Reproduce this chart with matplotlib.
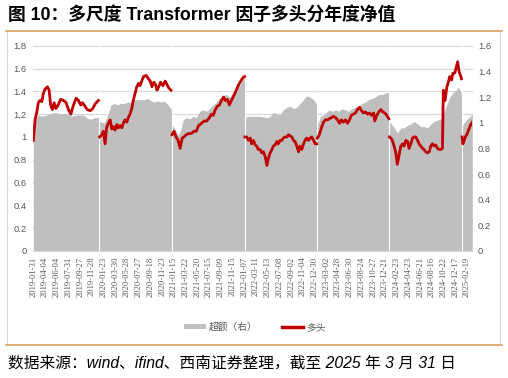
import matplotlib
matplotlib.use("Agg")
import matplotlib.pyplot as plt
from matplotlib.lines import Line2D
from matplotlib.patches import Patch
from matplotlib.transforms import blended_transform_factory

plt.rcParams['font.family'] = ['Liberation Sans', 'Noto Sans CJK SC', 'DejaVu Sans']

# ---- data: trading-day index (x) and values ----
tick_labels = ['2019-01-31', '2019-04-04', '2019-06-04', '2019-07-31', '2019-09-27', '2019-11-28',
               '2020-01-23', '2020-03-30', '2020-05-28', '2020-07-27', '2020-09-18', '2020-11-23',
               '2021-01-15', '2021-03-22', '2021-05-20', '2021-07-15', '2021-09-09', '2021-11-15',
               '2022-01-07', '2022-03-11', '2022-05-13', '2022-07-08', '2022-09-02', '2022-11-04',
               '2022-12-30', '2023-03-02', '2023-04-28', '2023-06-30', '2023-08-24', '2023-10-27',
               '2023-12-21', '2024-02-23', '2024-04-23', '2024-06-21', '2024-08-16', '2024-10-22',
               '2024-12-17', '2025-02-19']
tick_step = 40
last_index = 1498
year_starts = [225, 473, 722, 969, 1215, 1462]

# 多头 (left axis)
red_2019_x = [0, 6, 12, 17, 23, 29, 34, 40, 48, 54, 59, 65, 71, 77, 85, 93, 103, 112, 120, 128, 137, 146,
              154, 162, 168, 176, 184, 194, 203, 211, 222]
red_2019_y = [0.97, 1.15, 1.22, 1.30, 1.32, 1.31, 1.38, 1.42, 1.44, 1.41, 1.28, 1.24, 1.30, 1.25, 1.28, 1.33,
              1.32, 1.30, 1.24, 1.20, 1.28, 1.34, 1.32, 1.28, 1.30, 1.27, 1.24, 1.23, 1.25, 1.29, 1.32]
red_2020_x = [226, 234, 239, 245, 250, 256, 262, 268, 273, 279, 285, 290, 296, 302, 307, 313, 319, 324, 330,
              336, 341, 347, 353, 359, 364, 370, 376, 385, 393, 399, 405, 411, 417, 422, 428, 434, 442, 450,
              456, 462, 470]
red_2020_y = [1.00, 1.02, 1.05, 0.94, 1.08, 1.12, 1.15, 1.07, 1.09, 1.06, 1.11, 1.08, 1.10, 1.08, 1.12, 1.15,
              1.13, 1.17, 1.20, 1.25, 1.32, 1.38, 1.44, 1.47, 1.45, 1.49, 1.53, 1.54, 1.51, 1.49, 1.44, 1.48,
              1.46, 1.41, 1.44, 1.48, 1.45, 1.49, 1.46, 1.43, 1.41]
red_2021_x = [473, 480, 487, 494, 501, 508, 514, 522, 530, 539, 548, 556, 564, 574, 583, 592, 601, 608, 614,
              621, 628, 635, 642, 649, 655, 662, 669, 674, 680, 687, 694, 701, 708, 715, 721]
red_2021_y = [1.02, 1.05, 1.00, 0.97, 0.90, 0.99, 1.00, 1.02, 1.03, 1.03, 1.05, 1.05, 1.10, 1.12, 1.14, 1.14,
              1.17, 1.20, 1.19, 1.24, 1.27, 1.28, 1.32, 1.35, 1.32, 1.33, 1.28, 1.31, 1.34, 1.38, 1.42, 1.46,
              1.49, 1.52, 1.53]
red_2022_x = [722, 728, 734, 740, 745, 751, 757, 762, 768, 774, 780, 785, 791, 797, 802, 808, 814, 819, 825,
              831, 836, 842, 848, 853, 859, 865, 871, 876, 882, 888, 893, 899, 905, 910, 916, 922, 927, 933,
              939, 944, 950, 956, 962, 967]
red_2022_y = [1.00, 1.00, 0.97, 0.99, 0.94, 0.97, 0.93, 0.92, 0.89, 0.89, 0.86, 0.87, 0.83, 0.75, 0.81, 0.86,
              0.89, 0.92, 0.93, 0.96, 0.94, 0.97, 0.97, 0.99, 1.00, 1.00, 1.02, 1.01, 1.00, 0.97, 0.96, 0.92,
              0.87, 0.92, 0.89, 0.94, 0.97, 0.99, 0.97, 0.99, 1.00, 0.97, 0.94, 0.94]
red_2023_x = [969, 976, 983, 990, 997, 1004, 1010, 1017, 1024, 1031, 1038, 1045, 1051, 1058, 1065, 1072, 1079,
              1085, 1092, 1099, 1106, 1113, 1120, 1126, 1133, 1140, 1147, 1154, 1161, 1165, 1172, 1179, 1186,
              1192, 1199, 1206, 1213]
red_2023_y = [0.99, 1.02, 1.08, 1.13, 1.15, 1.15, 1.16, 1.17, 1.18, 1.17, 1.15, 1.12, 1.15, 1.13, 1.15, 1.12,
              1.15, 1.19, 1.20, 1.21, 1.24, 1.26, 1.23, 1.21, 1.22, 1.20, 1.21, 1.19, 1.21, 1.14, 1.19, 1.22,
              1.24, 1.22, 1.21, 1.19, 1.16]
red_2024_x = [1215, 1220, 1225, 1231, 1237, 1242, 1248, 1254, 1260, 1265, 1271, 1277, 1282, 1288, 1294, 1299,
              1305, 1311, 1316, 1322, 1328, 1333, 1339, 1345, 1351, 1356, 1362, 1368, 1373, 1379, 1385, 1390,
              1396, 1399, 1405, 1411, 1415, 1421, 1427, 1432, 1438, 1444, 1448, 1453, 1459, 1461]
red_2024_y = [1.00, 0.99, 0.97, 0.92, 0.86, 0.76, 0.84, 0.92, 0.94, 0.92, 0.97, 0.96, 0.90, 0.94, 0.99, 1.00,
              1.00, 0.97, 0.94, 0.92, 0.90, 0.89, 0.87, 0.86, 0.87, 0.92, 0.94, 0.92, 0.93, 0.90, 0.89, 0.89,
              0.90, 1.41, 1.32, 1.44, 1.47, 1.53, 1.50, 1.56, 1.56, 1.62, 1.66, 1.57, 1.53, 1.51]
red_2025_x = [1463, 1466, 1470, 1474, 1479, 1485, 1491, 1498]
red_2025_y = [1.00, 0.94, 0.97, 1.00, 1.02, 1.06, 1.10, 1.13]

# 超额 (right axis)
gray_2019_x = [0, 6, 12, 17, 29, 46, 57, 74, 91, 114, 131, 148, 171, 188, 199, 210, 224]
gray_2019_y = [0.98, 1.00, 1.04, 1.06, 1.05, 1.06, 1.07, 1.08, 1.07, 1.07, 1.05, 1.06, 1.06, 1.03, 1.03, 1.04, 1.04]
gray_2020_x = [225, 242, 254, 265, 277, 288, 299, 311, 322, 334, 345, 356, 368, 379, 390, 402, 413, 425, 436,
               447, 459, 472]
gray_2020_y = [1.01, 1.00, 1.06, 1.14, 1.15, 1.14, 1.15, 1.15, 1.16, 1.16, 1.18, 1.18, 1.18, 1.18, 1.19, 1.17,
               1.16, 1.17, 1.16, 1.17, 1.14, 1.10]
gray_2021_x = [473, 488, 494, 503, 511, 522, 534, 545, 556, 568, 579, 591, 602, 613, 625, 636, 647, 659, 670,
               682, 693, 704, 716, 721]
gray_2021_y = [0.99, 0.93, 0.90, 0.94, 1.02, 1.04, 1.03, 1.05, 1.04, 1.09, 1.10, 1.09, 1.11, 1.14, 1.16, 1.19,
               1.21, 1.22, 1.20, 1.23, 1.26, 1.29, 1.34, 1.36]
gray_2022_x = [722, 728, 751, 774, 797, 808, 819, 831, 842, 853, 865, 876, 888, 899, 910, 922, 933, 944, 956, 968]
gray_2022_y = [1.02, 1.05, 1.05, 1.05, 1.04, 1.05, 1.08, 1.07, 1.06, 1.10, 1.12, 1.13, 1.11, 1.12, 1.15, 1.18,
               1.21, 1.20, 1.18, 1.14]
gray_2023_x = [969, 980, 991, 1008, 1020, 1031, 1042, 1054, 1065, 1076, 1088, 1099, 1111, 1122, 1133, 1145,
               1156, 1167, 1179, 1190, 1202, 1214]
gray_2023_y = [0.98, 1.05, 1.06, 1.10, 1.09, 1.10, 1.09, 1.11, 1.10, 1.09, 1.11, 1.12, 1.13, 1.15, 1.16, 1.18,
               1.19, 1.20, 1.22, 1.22, 1.23, 1.24]
gray_2024_x = [1215, 1225, 1237, 1242, 1254, 1265, 1277, 1288, 1299, 1311, 1322, 1333, 1345, 1356, 1368, 1379,
               1390, 1397, 1402, 1407, 1419, 1430, 1442, 1450, 1459, 1461]
gray_2024_y = [1.01, 0.98, 0.94, 0.92, 0.96, 0.96, 0.98, 0.99, 1.01, 0.99, 0.97, 0.97, 0.96, 0.99, 1.01, 1.02,
               1.03, 1.04, 1.08, 1.12, 1.19, 1.23, 1.25, 1.28, 1.24, 1.22]
gray_2025_x = [1462, 1470, 1477, 1486, 1492, 1498]
gray_2025_y = [0.97, 1.00, 1.02, 1.04, 1.05, 1.07]

red_years = [(red_2019_x, red_2019_y), (red_2020_x, red_2020_y), (red_2021_x, red_2021_y),
             (red_2022_x, red_2022_y), (red_2023_x, red_2023_y), (red_2024_x, red_2024_y),
             (red_2025_x, red_2025_y)]
gray_years = [(gray_2019_x, gray_2019_y), (gray_2020_x, gray_2020_y), (gray_2021_x, gray_2021_y),
              (gray_2022_x, gray_2022_y), (gray_2023_x, gray_2023_y), (gray_2024_x, gray_2024_y),
              (gray_2025_x, gray_2025_y)]

left_ticks = [0, 0.2, 0.4, 0.6, 0.8, 1.0, 1.2, 1.4, 1.6, 1.8]
left_labels = ['0', '0.2', '0.4', '0.6', '0.8', '1', '1.2', '1.4', '1.6', '1.8']
right_ticks = [0, 0.2, 0.4, 0.6, 0.8, 1.0, 1.2, 1.4, 1.6]
right_labels = ['0', '0.2', '0.4', '0.6', '0.8', '1', '1.2', '1.4', '1.6']

GRAY = '#BFBFBF'
RED = '#C00000'
TXT = '#595959'
ORANGE = '#D9A05B'

fig = plt.figure(figsize=(5.08, 3.78), dpi=100)
ax = fig.add_axes([0.0656, 0.336, 0.8642, 0.543])
ax2 = ax.twinx()
ax.set_zorder(ax2.get_zorder() + 1)
ax.patch.set_visible(False)

# grid lines follow the left scale but sit under the gray area
grid_tr = blended_transform_factory(ax2.transAxes, ax.transData)
for t in left_ticks[1:]:
    ax2.plot([0, 1], [t, t], color='#D9D9D9', lw=0.9, transform=grid_tr, zorder=0, clip_on=False)

for xs, ys in gray_years:
    ax2.fill_between(xs, 0, ys, color=GRAY, lw=0, zorder=1)
for b in year_starts:
    ax2.axvline(b, color='white', lw=0.8, zorder=2)

for xs, ys in red_years:
    ax.plot(xs, ys, color=RED, lw=2.0, solid_joinstyle='round', zorder=3)

ax.set_xlim(0, last_index)
ax.set_ylim(0, 1.8)
ax2.set_ylim(0, 1.6)

ax.set_yticks(left_ticks)
ax.set_yticklabels(left_labels)
ax2.set_yticks(right_ticks)
ax2.set_yticklabels(right_labels)
ax.set_xticks(list(range(0, tick_step * len(tick_labels), tick_step)))
ax.set_xticklabels(tick_labels, rotation=90, family=['Liberation Serif', 'DejaVu Serif'], fontsize=6.2)

ax.tick_params(axis='x', length=0, pad=4, colors=TXT)
ax.tick_params(axis='y', length=0, pad=5, labelsize=6.8, colors=TXT)
ax2.tick_params(axis='y', length=0, pad=4, labelsize=6.8, colors=TXT)

for a in (ax, ax2):
    for s in ('top', 'left', 'right'):
        a.spines[s].set_visible(False)
    a.spines['bottom'].set_color('#D9D9D9')
ax2.spines['bottom'].set_visible(False)

handles = [Patch(facecolor=GRAY, edgecolor='none'), Line2D([0], [0], color=RED, lw=2.5)]
fig.legend(handles, ['超额（右）', '多头'], loc='center', bbox_to_anchor=(0.502, 0.135), ncol=2,
           frameon=False, handlelength=2.2, handleheight=0.5, columnspacing=2.5,
           handletextpad=0.3, labelcolor=TXT, prop={'family': ['Noto Sans CJK SC'], 'size': 7})

# frame lines
fig.add_artist(Line2D([0.012, 0.988], [0.918, 0.918], color=ORANGE, lw=1.2))
fig.add_artist(Line2D([0.012, 0.988], [0.087, 0.087], color=ORANGE, lw=1.2))
fig.add_artist(Line2D([0.013, 0.013], [0.092, 0.916], color='#D9D9D9', lw=0.8))
fig.add_artist(Line2D([0.984, 0.984], [0.092, 0.916], color='#D9D9D9', lw=0.8))

fig.text(0.016, 0.96, '图 10：多尺度 Transformer 因子多头分年度净值', fontsize=12.8, fontweight='bold',
         ha='left', va='center', color='black')
fig.text(0.016, 0.04, '数据来源：wind、ifind、西南证券整理，截至 2025 年 3 月 31 日', fontsize=11.3,
         style='italic', ha='left', va='center', color='black')

fig.savefig('out.png', dpi=100)
